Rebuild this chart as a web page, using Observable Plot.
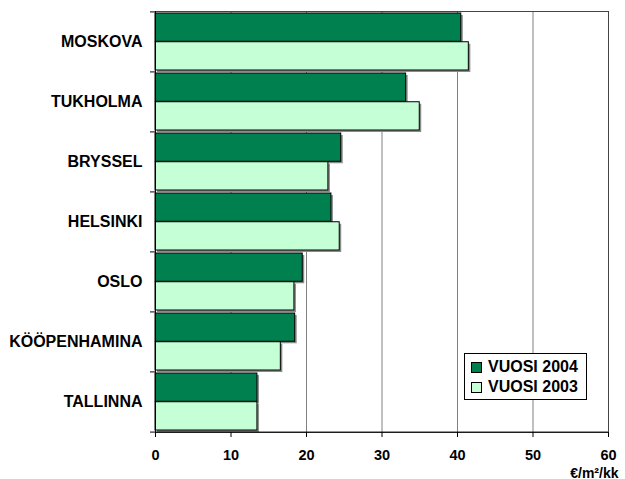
<!DOCTYPE html>
<html>
<head>
<meta charset="utf-8">
<script src="https://cdn.jsdelivr.net/npm/d3@7"></script>
<script src="https://cdn.jsdelivr.net/npm/@observablehq/plot@0.6"></script>
<style>
  body { margin: 0; background: #fff; }
  #wrap { position: relative; width: 625px; height: 479px; font-family: "Liberation Sans", Arial, sans-serif; }
  #legend { position: absolute; left: 464px; top: 353px; width: 121px; height: 45px; border: 1px solid #000; background: #fff; font-weight: bold; font-size: 16px; color: #000; }
  .row { position: absolute; left: 6px; display: flex; align-items: center; height: 20px; }
  .sw { width: 9px; height: 9px; border: 1px solid #000; margin-right: 6px; }
</style>
</head>
<body>
<div id="wrap"><div id="legend"></div></div>
<script>
const cities = ["MOSKOVA", "TUKHOLMA", "BRYSSEL", "HELSINKI", "OSLO", "KÖÖPENHAMINA", "TALLINNA"];
const values2004 = [40.5, 33.2, 24.6, 23.3, 19.5, 18.5, 13.5];
const values2003 = [41.5, 35.0, 22.9, 24.4, 18.4, 16.6, 13.5];
const seriesNames = ["VUOSI 2004", "VUOSI 2003"];
const seriesColors = ["#00804F", "#C4FFD6"];
const xTicks = [0, 10, 20, 30, 40, 50, 60];
const unitLabel = "€/m²/kk";

const W = 625, H = 479, mT = 11, mB = 47, mL = 155, mR = 17;
const pIn = 0.045, pOut = 0.02;
const step = (H - mT - mB) / (cities.length - pIn + 2 * pOut);
const half = step * (1 - pIn) / 2;

const d2004 = cities.map((c, i) => ({city: c, value: values2004[i]}));
const d2003 = cities.map((c, i) => ({city: c, value: values2003[i]}));

const chart = Plot.plot({
  width: W, height: H,
  marginTop: mT, marginBottom: mB, marginLeft: mL, marginRight: mR,
  style: {fontFamily: "'Liberation Sans', Arial, sans-serif", fontWeight: "bold", fontSize: "15px", color: "#000", background: "#fff"},
  x: {domain: [0, 60]},
  y: {domain: cities, paddingInner: pIn, paddingOuter: pOut},
  marks: [
    Plot.ruleX(xTicks.slice(1, -1), {stroke: "#808080", strokeWidth: 1}),
    Plot.frame({stroke: "#444"}),
    Plot.barX(d2004, {x: "value", y: "city", insetBottom: half, fill: "#8a8a8a", dx: 2, dy: 2}),
    Plot.barX(d2003, {x: "value", y: "city", insetTop: half, fill: "#8a8a8a", dx: 2, dy: 2}),
    Plot.barX(d2004, {x: "value", y: "city", insetBottom: half, fill: seriesColors[0], stroke: "#000", strokeWidth: 1}),
    Plot.barX(d2003, {x: "value", y: "city", insetTop: half, fill: seriesColors[1], stroke: "#000", strokeWidth: 1}),
    Plot.ruleX([0], {stroke: "#000"}),
    Plot.ruleY(cities, {y: d => d, x1: 0, x2: 0, insetLeft: -5, dy: -step / 2, stroke: "#000"}),
    Plot.ruleY(cities.slice(-1), {y: d => d, x1: 0, x2: 60, insetLeft: -5, dy: step / 2, stroke: "#000"}),
    Plot.axisX({ticks: xTicks, tickSize: 5, tickPadding: 12, fontSize: 14.5, label: null}),
    Plot.axisY({tickSize: 0, tickPadding: 13, fontSize: 16, label: null}),
    Plot.text([unitLabel], {frameAnchor: "bottom-right", dx: 10, dy: 45, textAnchor: "end", lineAnchor: "bottom", fontSize: 14, fontWeight: "bold"})
  ]
});
document.getElementById("wrap").prepend(chart);

const legend = document.getElementById("legend");
seriesNames.forEach((name, i) => {
  const row = document.createElement("div");
  row.className = "row";
  row.style.top = (3 + i * 20) + "px";
  const sw = document.createElement("div");
  sw.className = "sw";
  sw.style.background = seriesColors[i];
  const t = document.createElement("span");
  t.textContent = name;
  row.append(sw, t);
  legend.append(row);
});
</script>
</body>
</html>
